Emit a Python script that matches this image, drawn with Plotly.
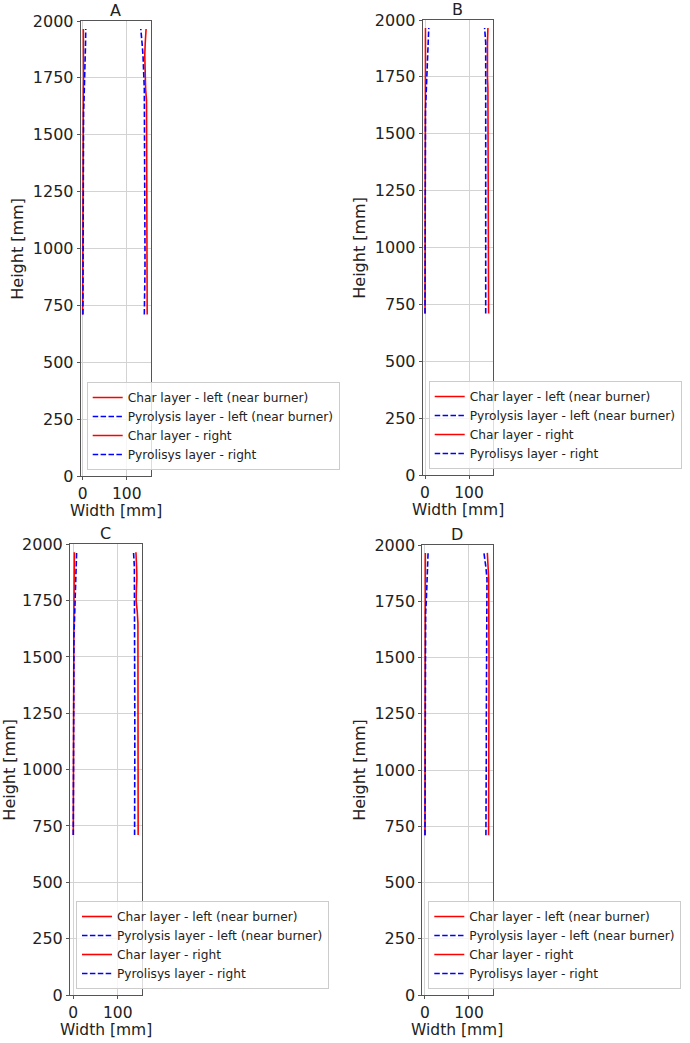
import plotly.graph_objects as go

W, H = 690, 1043

panel_titles = ["A", "B", "C", "D"]
series_names = [
    "Char layer - left (near burner)",
    "Pyrolysis layer - left (near burner)",
    "Char layer - right",
    "Pyrolisys layer - right",
]
x_title = "Width [mm]"
y_title = "Height [mm]"

height_mm = [710, 800, 900, 1000, 1100, 1200, 1300, 1400, 1500, 1550,
             1600, 1650, 1700, 1750, 1800, 1850, 1900, 1965]

# Panel A
a_char_left = [0, 0, 0, 0, 0, 0, 0, 0, 0, 0, 0.5, 1, 1.5, 2, 2, 2, 1.8, 1.5]
a_pyro_left = [0.5, 0.5, 0.5, 0.5, 0.5, 0.5, 0.5, 0.5, 0.8, 1.2, 2, 3, 4, 5, 5.5, 6, 6.5, 7]
a_char_right = [146.5, 146.5, 146.5, 146.5, 146.5, 146.5, 146.5, 146.5, 146.5, 146.5, 146, 145, 143, 142, 141.5, 141, 142, 144]
a_pyro_right = [140, 141, 141.5, 141.5, 141.5, 141.5, 141.5, 141.5, 141.5, 141.5, 141.5, 141, 140, 139, 138.5, 137, 135, 132]

# Panel B
b_char_left = [0, 0, 0, 0, 0, 0, 0, 0, 0, 0, 0, 0.3, 0.5, 0.8, 1, 1, 1, 1]
b_pyro_left = [0, 0, 0, 0, 0, 0, 0, 0, 0, 0.3, 1, 2, 3, 4.5, 5.5, 6.5, 7.5, 8.5]
b_char_right = [144.5, 144.5, 144.5, 144.5, 144.5, 144.5, 144.5, 144.5, 144.5, 144.5, 144.5, 144, 143, 142, 141.8, 141.8, 142, 143]
b_pyro_right = [138, 138, 138, 138, 138, 138, 138, 138, 138, 138, 138, 138, 138, 138, 138.5, 139, 138, 135.5]

# Panel C
c_char_left = [0, 0, 0, 0, 0, 0, 0, 0, 0, 0, 0, 0.5, 1, 1.5, 1.8, 2, 2.2, 2.3]
c_pyro_left = [0, 0, 0, 0, 0, 0, 0, 0, 0, 0.5, 1.5, 2.5, 3.5, 4.5, 5.5, 6.5, 7, 7.5]
c_char_right = [146, 146, 146, 146, 146, 146, 146, 146, 146, 146, 146, 145.5, 144, 141.5, 142, 143.2, 142.5, 141]
c_pyro_right = [138, 138.5, 138.5, 138.5, 138.5, 138.5, 138.5, 138.5, 138.5, 138.5, 138.5, 138.5, 138.3, 138, 138, 138, 137.5, 135.6]

# Panel D
d_char_left = [0, 0, 0, 0, 0, 0, 0, 0, 0, 0, 0, 0, 0, 0, 0, 0.3, 0.5, 0.8]
d_pyro_left = [0, 0, 0, 0, 0, 0, 0, 0, 0, 0, 0, 0.5, 1.5, 3, 4, 5, 6, 7]
d_char_right = [144.5, 144.8, 145, 145.2, 145.5, 145.5, 145.5, 145.5, 145.5, 145.5, 145.5, 145.5, 145.5, 145.5, 145.2, 144.7, 143.5, 141.7]
d_pyro_right = [138.5, 139, 139.4, 139.4, 139.4, 139.4, 139.4, 139.4, 139.4, 139.4, 139.4, 139.4, 139.4, 139.4, 140.2, 140.9, 138.5, 134]

panels = [
    [a_char_left, a_pyro_left, a_char_right, a_pyro_right],
    [b_char_left, b_pyro_left, b_char_right, b_pyro_right],
    [c_char_left, c_pyro_left, c_char_right, c_pyro_right],
    [d_char_left, d_pyro_left, d_char_right, d_pyro_right],
]

x_ticks = [0, 100]
y_ticks = [0, 250, 500, 750, 1000, 1250, 1500, 1750, 2000]

# axes boxes in pixels: left, right, top, bottom
boxes = [
    (80.7, 150.7, 21, 476),
    (422.7, 492.7, 20, 475),
    (70, 141.7, 544.3, 995),
    (422.3, 492.7, 545, 995),
]
x_ranges = [[-4.5, 154.5], [-5.3, 153.9], [-7.4, 154], [-6.1, 153.9]]

colors = ["#ff0000", "#0000ff", "#ff0000", "#0000ff"]
dashes = ["solid", "5.5px,2.4px", "solid", "5.5px,2.4px"]

FONT = "DejaVu Sans"
TXT = "#222"
fig = go.Figure()
layout = dict(
    width=W, height=H,
    margin=dict(l=0, r=0, t=0, b=0, autoexpand=False),
    paper_bgcolor="white", plot_bgcolor="white",
    font=dict(family=FONT, size=16, color=TXT),
    showlegend=True,
)
annotations = []

for i, (data, (l, r, t, b)) in enumerate(zip(panels, boxes)):
    n = i + 1
    xa = "x" if n == 1 else f"x{n}"
    ya = "y" if n == 1 else f"y{n}"
    lg = "legend" if n == 1 else f"legend{n}"
    for j, vals in enumerate(data):
        fig.add_trace(go.Scatter(
            x=vals, y=height_mm, mode="lines", name=series_names[j],
            line=dict(color=colors[j], width=1.6, dash=dashes[j]),
            xaxis=xa, yaxis=ya, legend=lg, showlegend=True,
        ))
    common = dict(
        showgrid=True, gridcolor="#d3d3d3", gridwidth=1,
        showline=True, linecolor="#555", linewidth=1, mirror=True,
        ticks="outside", ticklen=3, tickcolor="#555", tickwidth=1,
        zeroline=False, automargin=False,
    )
    layout["xaxis" if n == 1 else f"xaxis{n}"] = dict(
        domain=[l / W, r / W], anchor=ya, range=x_ranges[i],
        tickvals=x_ticks, ticktext=[str(v) for v in x_ticks],
        tickfont=dict(size=15.5, family=FONT, color=TXT),
        **common,
    )
    layout["yaxis" if n == 1 else f"yaxis{n}"] = dict(
        domain=[1 - b / H, 1 - t / H], anchor=xa, range=[0, 2000],
        tickvals=y_ticks, ticktext=[str(v) for v in y_ticks],
        tickfont=dict(size=16, family=FONT, color=TXT),
        **common,
    )
    layout[lg] = dict(
        x=(l + 6) / W, y=1 - (b - 6) / H, xanchor="left", yanchor="bottom",
        xref="paper", yref="paper",
        bgcolor="rgba(255,255,255,0.8)", bordercolor="#cccccc", borderwidth=1,
        font=dict(size=12.2, family=FONT, color=TXT),
        tracegroupgap=0, itemwidth=30,
    )
    annotations.append(dict(
        text=panel_titles[i], x=(l + r) / 2 / W, y=1 - (t - 11) / H,
        xref="paper", yref="paper", xanchor="center", yanchor="middle",
        showarrow=False, font=dict(size=16, family=FONT, color=TXT),
    ))
    annotations.append(dict(
        text=x_title, x=(l + r) / 2 / W, y=1 - (b + 35) / H,
        xref="paper", yref="paper", xanchor="center", yanchor="middle",
        showarrow=False, font=dict(size=15.5, family=FONT, color=TXT),
    ))
    annotations.append(dict(
        text=y_title, x=max(l - 63.5, 10) / W, y=1 - (t + b) / 2 / H,
        xref="paper", yref="paper", xanchor="center", yanchor="middle",
        textangle=-90, showarrow=False,
        font=dict(size=16, family=FONT, color=TXT),
    ))

layout["annotations"] = annotations
fig.update_layout(**layout)
fig.write_html("out.html")
